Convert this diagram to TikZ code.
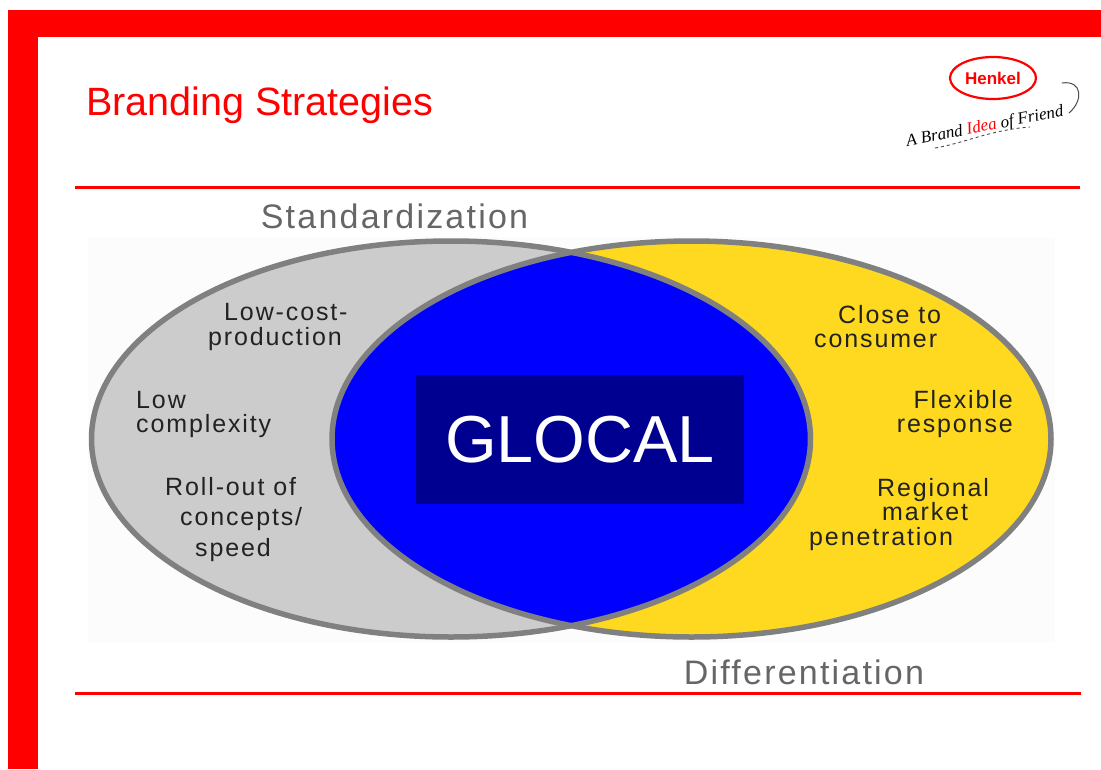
\documentclass[tikz,border=0pt]{standalone}
\usepackage{fontspec}
\setmainfont{Liberation Sans}
\newfontfamily\lblfont[LetterSpace=7.5]{Liberation Sans}
\newfontfamily\headfont[LetterSpace=6.5]{Liberation Sans}
\newfontfamily\sigfont{Liberation Serif}
\definecolor{venngrey}{HTML}{CCCCCC}
\definecolor{vennyellow}{HTML}{FFD820}
\definecolor{vennline}{HTML}{808080}
\definecolor{navybox}{HTML}{000090}
\definecolor{headgrey}{HTML}{666666}
\definecolor{labelink}{HTML}{222222}
\tikzset{
  framebar/.style={fill=red,draw=none},
  rulebar/.style={draw=red,line width=3pt},
  vennoutline/.style={draw=vennline,line width=5.5pt},
  lbl/.style={text=labelink,inner sep=0pt,font=\lblfont\fontsize{25}{24.7}\selectfont},
  head/.style={text=headgrey,inner sep=0pt,font=\headfont\fontsize{34}{34}\selectfont},
}
\begin{document}
\begin{tikzpicture}[x=1pt,y=-1pt]
\useasboundingbox (0,0) rectangle (1101,769);
\fill[white] (0,0) rectangle (1101,769);
% frame
\path[framebar] (8,10) rectangle (1101,37);
\path[framebar] (8,10) rectangle (38,769);
% title and rules
\node[anchor=west,text=red,inner sep=0pt,font=\fontsize{39.5}{40}\selectfont] (title) at (86,105) {Branding Strategies};
\draw[rulebar] (75,187) -- (1080,187);
\draw[rulebar] (75,693) -- (1081,693);
% logo
\draw[red,line width=2.2pt,fill=white] (993,78) ellipse [x radius=43,y radius=21];
\node[text=red,inner sep=0pt,font=\bfseries\fontsize{17}{17}\selectfont] (henkel) at (993,78) {Henkel};
\node[inner sep=0pt,rotate=11,font=\sigfont\itshape\fontsize{17}{17}\selectfont] (sig) at (985,127) {A Brand \textcolor{red}{Idea} of Friend};
\draw[black!70,line width=1pt,line cap=round] (1062,83) .. controls (1082,80) and (1084,100) .. (1069,113);
\draw[black!70,line width=0.9pt,dashed] (935,148) .. controls (965,143) and (990,130) .. (1030,127);
% venn backdrop
\fill[black!1] (88,237) rectangle (1055,643);
\fill[venngrey] (451,439) ellipse [x radius=359.5,y radius=198];
\fill[vennyellow] (691.5,439) ellipse [x radius=359.5,y radius=198];
\begin{scope}
  \clip (451,439) ellipse [x radius=359.5,y radius=198];
  \fill[blue] (691.5,439) ellipse [x radius=359.5,y radius=198];
\end{scope}
\path[vennoutline] (451,439) ellipse [x radius=359.5,y radius=198];
\path[vennoutline] (691.5,439) ellipse [x radius=359.5,y radius=198];
% centre
\node[fill=navybox,text=white,minimum width=328pt,minimum height=129pt,inner sep=0pt,font=\fontsize{66.5}{66.5}\selectfont] (glocal) at (580,439.5) {GLOCAL};
% headings
\node[head,anchor=center] (std) at (394.5,216.5) {Standardization};
\node[head,anchor=center] (diff) at (804,672.5) {Differentiation};
% left labels
\node[lbl,align=left,anchor=west] (lowcost) at (208,327) {\hspace*{16pt}Low-cost-\\production};
\node[lbl,align=left,anchor=west] (lowcx) at (136,414.5) {Low\\complexity};
\node[lbl,align=left,anchor=west,font=\lblfont\fontsize{25}{30.5}\selectfont] (rollout) at (165,519.5) {Roll-out of\\\hspace*{15pt}concepts/\\\hspace*{30pt}speed};
% right labels
\node[lbl,align=left,anchor=west] (close) at (814,326.5) {\hspace*{24pt}Close to\\consumer};
\node[lbl,align=right,anchor=east] (flex) at (1013,414) {Flexible\\response};
\node[lbl,align=left,anchor=west] (regional) at (809,514.5) {\hspace*{68pt}Regional\\\hspace*{73pt}market\\penetration};
\end{tikzpicture}
\end{document}
